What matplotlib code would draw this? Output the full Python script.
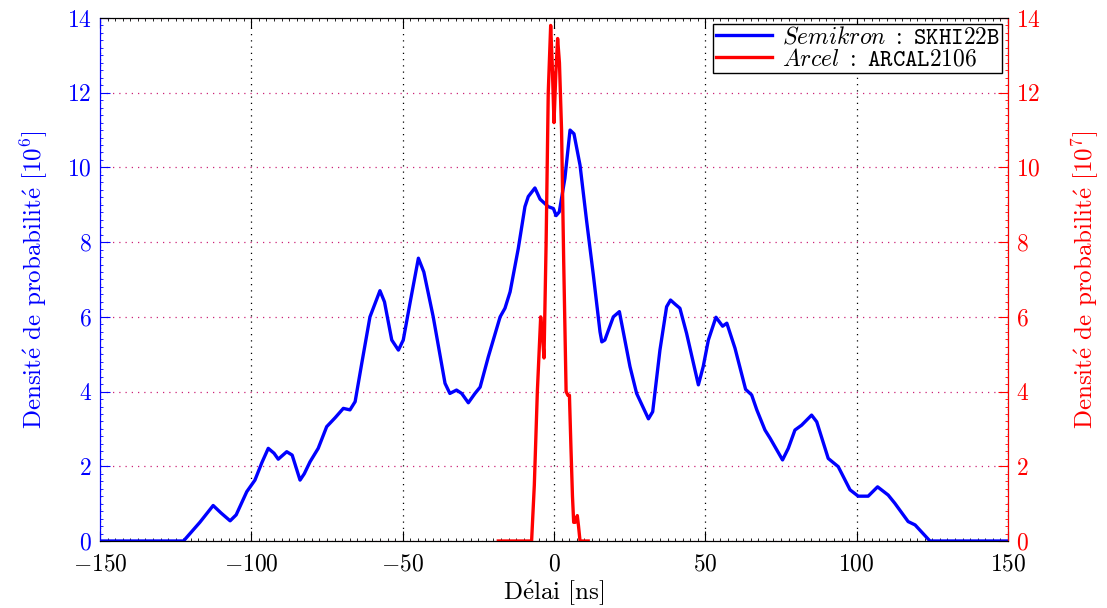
import numpy as np
import matplotlib.pyplot as plt
from matplotlib.ticker import MultipleLocator

plt.rcParams['font.family'] = ['cmr10', 'DejaVu Serif']
plt.rcParams['mathtext.fontset'] = 'cm'
plt.rcParams['axes.formatter.use_mathtext'] = True
plt.rcParams['axes.unicode_minus'] = True

# --- donnees ---
# Semikron : SKHI22B (axe gauche, x1e6)
delai_semikron = [-150, -122.4, -117, -112.6, -110, -107, -105, -101.5, -98.8, -96.5,
                  -94.4, -92.5, -91.1, -88.3, -86.5, -83.9, -82.5, -80.6, -77.9, -75.1,
                  -72.3, -69.6, -67.4, -65.7, -63.5, -60.8, -57.5, -56, -53.6, -51.4,
                  -49.8, -47.5, -44.8, -43, -39.9, -36, -34.4, -32.2, -30.5, -28.3,
                  -26.1, -24.4, -21.7, -17.8, -16.2, -14.5, -11.8, -9.6, -8.5, -6.3,
                  -4.6, -1.9, -0.2, 0.7, 1.75, 3.6, 5.3, 6.6, 8.6, 10.8,
                  13, 15.2, 15.8, 16.8, 19.6, 21.6, 25.1, 27.3, 31.2, 32.6,
                  35, 37.2, 38.5, 40, 41.6, 43.8, 47.7, 49.3, 51, 53.5,
                  55.7, 57.1, 59.8, 63.3, 65.3, 67, 69.7, 71.4, 75.5, 77.4,
                  79.6, 81.8, 85.1, 86.8, 90.6, 93.9, 97.8, 100.5, 103.8, 106.9,
                  110.4, 112.6, 117, 119.3, 124.2, 150]
dens_semikron = [0, 0, 0.5, 0.95, 0.75, 0.54, 0.7, 1.32, 1.63, 2.1,
                 2.48, 2.35, 2.19, 2.39, 2.3, 1.63, 1.8, 2.12, 2.48, 3.06,
                 3.30, 3.55, 3.51, 3.73, 4.76, 6.0, 6.70, 6.4, 5.38, 5.11,
                 5.38, 6.4, 7.57, 7.2, 6.0, 4.22, 3.95, 4.04, 3.95, 3.70,
                 3.95, 4.12, 4.93, 6.0, 6.23, 6.67, 7.83, 8.95, 9.22, 9.45,
                 9.15, 8.95, 8.9, 8.71, 8.81, 9.71, 11.0, 10.9, 10.06, 8.55,
                 7.12, 5.6, 5.33, 5.38, 6.0, 6.14, 4.67, 3.95, 3.27, 3.46,
                 5.11, 6.27, 6.45, 6.34, 6.23, 5.56, 4.18, 4.67, 5.38, 5.99,
                 5.75, 5.83, 5.16, 4.06, 3.91, 3.51, 2.97, 2.75, 2.17, 2.48,
                 2.97, 3.1, 3.37, 3.19, 2.21, 1.99, 1.37, 1.2, 1.2, 1.45,
                 1.23, 1.01, 0.52, 0.43, 0, 0]

# Arcel : ARCAL2106 (axe droit, x1e7)
delai_arcel = [-18.4, -7.4, -6.5, -5.5, -4.4, -3.8, -3.3, -2.6, -1.9, -1.1,
               -0.6, 0, 0.6, 1.2, 1.8, 2.5, 3.2, 4.0, 4.6, 5.1,
               5.6, 6.1, 6.5, 7.0, 7.7, 8.1, 8.6, 11.3]
dens_arcel = [0, 0, 1.5, 4.0, 6.0, 5.5, 4.9, 8.0, 12.0, 13.8,
              12.8, 11.2, 12.5, 13.45, 12.8, 11.0, 7.5, 4.0, 3.9, 3.9,
              2.5, 1.2, 0.5, 0.5, 0.68, 0.4, 0, 0]

FS = 17
FL = 18

fig = plt.figure(figsize=(11.07, 6.08), dpi=100)
ax = fig.add_axes([0.0903, 0.1102, 0.8203, 0.8602])
ax2 = ax.twinx()

l1, = ax.plot(delai_semikron, dens_semikron, color='blue', linewidth=2.4,
              label=r'$\mathit{Semikron}\ :\ \mathtt{SKHI22B}$')
l2, = ax2.plot(delai_arcel, dens_arcel, color='red', linewidth=2.4,
               label=r'$\mathit{Arcel}\ :\ \mathtt{ARCAL2106}$')

ax.set_xlim(-150, 150)
ax.set_ylim(0, 14)
ax2.set_ylim(0, 14)
ax.xaxis.set_major_locator(MultipleLocator(50))
ax.xaxis.set_minor_locator(MultipleLocator(2.5))
for a in (ax, ax2):
    a.yaxis.set_major_locator(MultipleLocator(2))
    a.yaxis.set_minor_locator(MultipleLocator(0.2))

ax.tick_params(which='major', direction='in', length=7, labelsize=FS, top=True, pad=6)
ax.tick_params(which='minor', direction='in', length=2.5, top=True)
ax.tick_params(axis='y', which='both', colors='blue')
ax.tick_params(axis='x', which='major', pad=9)
ax2.tick_params(which='major', direction='in', length=7, labelsize=FS, colors='red', pad=6)
ax2.tick_params(which='minor', direction='in', length=2.5, colors='red')

ax.spines['left'].set_color('blue')
ax2.spines['left'].set_color('blue')
ax2.spines['right'].set_color('red')

ax.xaxis.grid(True, linestyle=(0, (1, 4)), color='black', linewidth=0.9)
ax.yaxis.grid(True, linestyle=(0, (1, 4)), color='#cc2277', linewidth=0.9)

ax.set_xlabel(r'D$\mathrm{\acute{e}}$lai [ns]', fontsize=FL, labelpad=2)
ax.set_ylabel(r'Densit$\mathrm{\acute{e}}$ de probabilit$\mathrm{\acute{e}}$ [$10^6$]',
              fontsize=FL, color='blue', labelpad=12)
ax2.set_ylabel(r'Densit$\mathrm{\acute{e}}$ de probabilit$\mathrm{\acute{e}}$ [$10^7$]',
               fontsize=FL, color='red', labelpad=20)

leg = ax2.legend(handles=[l1, l2], loc='upper right', fontsize=FS, fancybox=False,
                 framealpha=1, edgecolor='black', borderpad=0.1, labelspacing=0.0,
                 handlelength=2.4, handletextpad=0.4, borderaxespad=0.25)
leg.get_frame().set_linewidth(1.0)

fig.savefig('out.png', dpi=100)
